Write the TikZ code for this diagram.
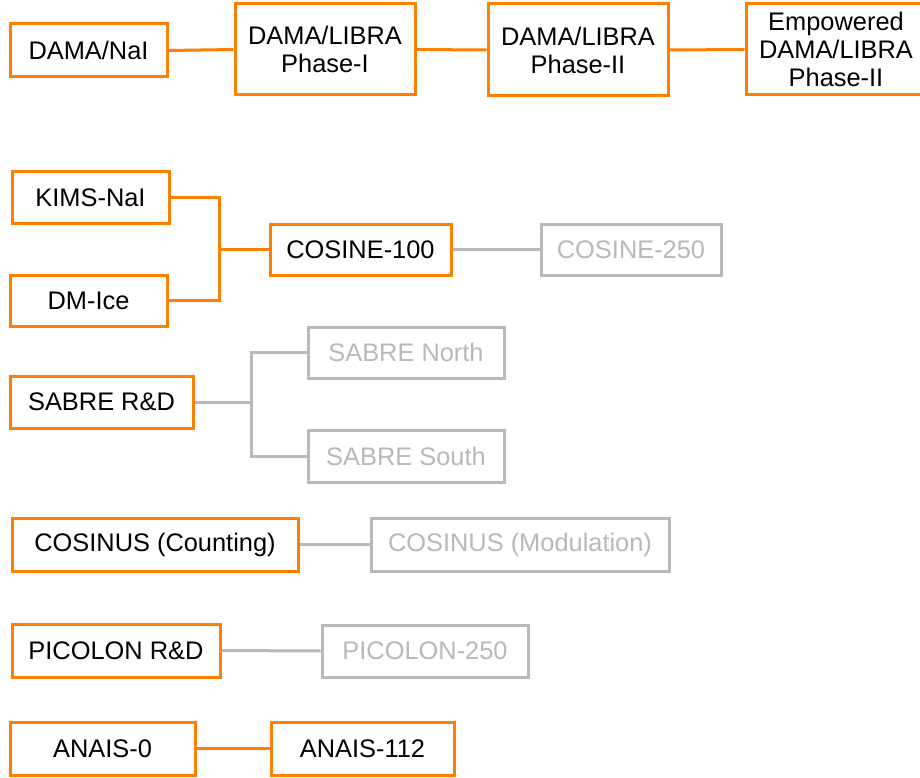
\documentclass[tikz,border=0pt]{standalone}
\usepackage{fontspec}
\setmainfont{Liberation Sans}
\definecolor{nuorange}{RGB}{255,128,0}
\definecolor{nugray}{RGB}{185,185,185}

\begin{document}
\begin{tikzpicture}[x=1pt, y=-1pt, line width=3pt, font=\fontsize{25.4}{28}\selectfont,
                    done/.style={draw=nuorange, fill=white, text=black, align=center, inner sep=0pt},
                    plan/.style={draw=nugray, fill=white, text=nugray, align=center, inner sep=0pt},
                    link/.style={draw=nuorange},
                    planlink/.style={draw=nugray}]
                    \useasboundingbox (0,0) rectangle (920,778);

                    % DAMA line
                    \node [done, minimum width=157pt, minimum height=53pt] (nai) at (88.5,50.5) {DAMA/NaI};
                    \node [done, minimum width=180pt, minimum height=91pt] (libra1) at (325,49.5) {DAMA/LIBRA\\Phase-I};
                    \node [done, minimum width=180pt, minimum height=92pt] (libra2) at (578,50) {DAMA/LIBRA\\Phase-II};
                    \node [done, minimum width=180pt, minimum height=91pt] (empow) at (836,49.5) {Empowered\\DAMA/LIBRA\\Phase-II};
                    \draw [link] (nai.east) -- (libra1.west);
                    \draw [link] (libra1.east) -- (libra2.west);
                    \draw [link] (libra2.east) -- (empow.west);

                    % COSINE
                    \node [done, minimum width=157pt, minimum height=51pt] (kims) at (90.5,197.5) {KIMS-NaI};
                    \node [done, minimum width=157pt, minimum height=51pt] (dmice) at (88.5,300.5) {DM-Ice};
                    \node [done, minimum width=181pt, minimum height=51pt] (cos100) at (360.5,249.5) {COSINE-100};
                    \node [plan, minimum width=180pt, minimum height=51pt] (cos250) at (631,249.5) {COSINE-250};
                    \coordinate (jcos) at (219,249.5);
                    \draw [link] (kims.east) -| (jcos) |- (dmice.east);
                    \draw [link] (jcos) -- (cos100.west);
                    \draw [planlink] (cos100.east) -- (cos250.west);

                    % SABRE
                    \node [done, minimum width=183pt, minimum height=52pt] (sabre) at (101.5,402) {SABRE R\&D};
                    \node [plan, minimum width=196pt, minimum height=51pt] (north) at (406,352.5) {SABRE North};
                    \node [plan, minimum width=196pt, minimum height=52pt] (south) at (406,456) {SABRE South};
                    \coordinate (jsab) at (251,402);
                    \draw [planlink] (north.west) -| (jsab) |- (south.west);
                    \draw [planlink] (sabre.east) -- (jsab);

                    % COSINUS
                    \node [done, minimum width=286pt, minimum height=53pt] (counting) at (155,544.5) {COSINUS (Counting)};
                    \node [plan, minimum width=298pt, minimum height=53pt] (modul) at (520,544.5) {COSINUS (Modulation)};
                    \draw [planlink] (counting.east) -- (modul.west);

                    % PICOLON
                    \node [done, minimum width=208pt, minimum height=53pt] (picolon) at (116,650.5) {PICOLON R\&D};
                    \node [plan, minimum width=206pt, minimum height=52pt] (pic250) at (425,651) {PICOLON-250};
                    \draw [planlink] (picolon.east) -- (pic250.west);

                    % ANAIS
                    \node [done, minimum width=185pt, minimum height=53pt] (anais0) at (102.5,748.5) {ANAIS-0};
                    \node [done, minimum width=183pt, minimum height=53pt] (anais112) at (362.5,748.5) {ANAIS-112};
                    \draw [link] (anais0.east) -- (anais112.west);
                \end{tikzpicture}
\end{document}
